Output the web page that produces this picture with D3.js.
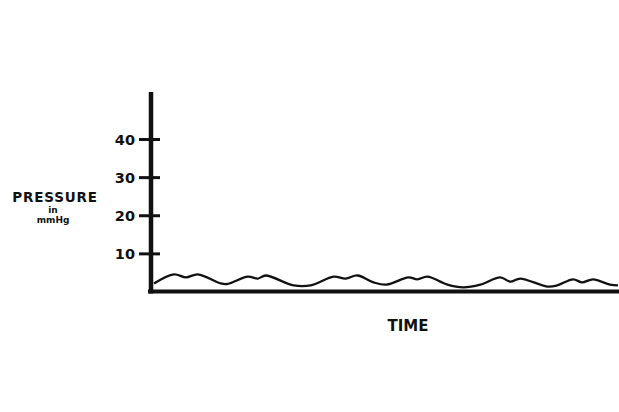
<!DOCTYPE html>
<html>
<head>
<meta charset="utf-8">
<script src="https://cdn.jsdelivr.net/npm/d3@7"></script>
<style>
  html, body { margin: 0; padding: 0; background: #fff; }
  svg { display: block; }
  text { font-family: "DejaVu Sans", sans-serif; font-weight: bold; fill: #111; }
</style>
</head>
<body>
<svg id="chart" width="619" height="412"></svg>
<script>
// ---- data ----
const timePoints = [3, 23, 35, 47, 70, 77, 97, 107, 115, 143, 160, 183, 195, 207, 223, 236, 258, 267, 277, 297, 313, 330, 350, 360, 370, 397, 407, 423, 432, 443, 460, 468];
const pressureValues = [2.1, 4.5, 3.7, 4.5, 2.1, 2.0, 3.9, 3.4, 4.2, 1.6, 1.6, 3.9, 3.4, 4.2, 2.4, 1.8, 3.7, 3.2, 3.9, 1.8, 1.1, 1.8, 3.7, 2.6, 3.4, 1.3, 1.6, 3.2, 2.4, 3.2, 1.8, 1.6];
const yTickValues = [10, 20, 30, 40];
const yTickLabels = ["10", "20", "30", "40"];
const yTitle = "PRESSURE";
const yUnitLine1 = "in";
const yUnitLine2 = "mmHg";
const xTitle = "TIME";

// ---- scales ----
const svg = d3.select("#chart");
const x = d3.scaleLinear().domain([0, 469]).range([151, 619]);
const y = d3.scaleLinear().domain([0, 40]).range([291.5, 139]);
const yTop = 52.3;

const data = timePoints.map((t, i) => ({ t, v: pressureValues[i] }));

// wave line
svg.append("path")
  .datum(data)
  .attr("fill", "none")
  .attr("stroke", "#111")
  .attr("stroke-width", 2.3)
  .attr("stroke-linejoin", "round")
  .attr("d", d3.line().x(d => x(d.t)).y(d => y(d.v)).curve(d3.curveCatmullRom.alpha(0.5)));

// y axis
const yAxis = d3.axisLeft(y)
  .tickValues(yTickValues)
  .tickFormat((d, i) => yTickLabels[i])
  .tickSizeInner(12)
  .tickSizeOuter(0)
  .tickPadding(4);

const gy = svg.append("g").attr("transform", `translate(${x(0)},0)`).call(yAxis);
gy.select(".domain").remove();
gy.selectAll(".tick line")
  .attr("x1", -12).attr("x2", 9)
  .attr("stroke", "#111").attr("stroke-width", 3);
gy.selectAll(".tick text")
  .attr("font-size", 14.5)
  .attr("font-family", "DejaVu Sans, sans-serif")
  .attr("font-weight", "bold")
  .attr("fill", "#111")
  .attr("dy", "0.36em");

// vertical axis line
svg.append("line")
  .attr("x1", x(0)).attr("x2", x(0))
  .attr("y1", y(yTop)).attr("y2", y(0) + 2)
  .attr("stroke", "#111").attr("stroke-width", 4.5);

// horizontal axis
const xAxis = d3.axisBottom(x).tickValues([]).tickSizeOuter(0);
const gx = svg.append("g").attr("transform", `translate(0,${y(0)})`).call(xAxis);
gx.select(".domain")
  .attr("d", `M${x(0) - 3},0H619`)
  .attr("stroke", "#111").attr("stroke-width", 4);

// titles
svg.append("text")
  .attr("x", 55).attr("y", 202)
  .attr("text-anchor", "middle")
  .attr("font-size", 13.5)
  .attr("letter-spacing", "0.8px")
  .text(yTitle);
svg.append("text")
  .attr("x", 53).attr("y", 213)
  .attr("text-anchor", "middle")
  .attr("font-size", 9)
  .text(yUnitLine1);
svg.append("text")
  .attr("x", 53).attr("y", 222.5)
  .attr("text-anchor", "middle")
  .attr("font-size", 9)
  .text(yUnitLine2);
svg.append("text")
  .attr("x", 408).attr("y", 331)
  .attr("text-anchor", "middle")
  .attr("font-size", 15)
  .text(xTitle);
</script>
</body>
</html>
